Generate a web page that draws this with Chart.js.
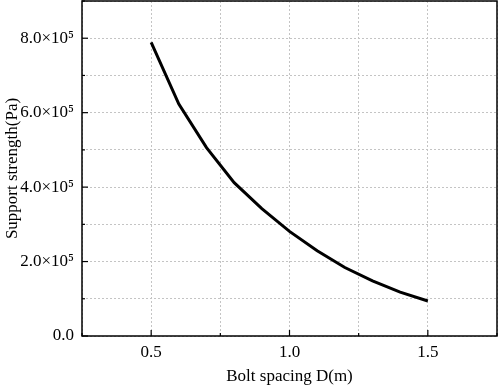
<!DOCTYPE html>
<html>
<head>
<meta charset="utf-8">
<script src="https://cdn.jsdelivr.net/npm/chart.js@4/dist/chart.umd.min.js"></script>
<style>
    html, body { margin: 0; padding: 0; background: #fff; }
    #wrap { width: 498px; height: 389px; }
</style>
</head>
<body>
<div id="wrap"><canvas id="strength"></canvas></div>
<script>
const spacing = [0.5, 0.6, 0.7, 0.8, 0.9, 1.0, 1.1, 1.2, 1.3, 1.4, 1.5];
const strength = [789000, 623000, 506000, 412000, 342000, 281000, 229000, 184000, 148000, 118000, 94000];
const xTickLabels = { "0.5": "0.5", "1": "1.0", "1.5": "1.5" };
const yTickLabels = { "0": "0.0", "200000": "2.0×10⁵", "400000": "4.0×10⁵", "600000": "6.0×10⁵", "800000": "8.0×10⁵" };

const points = spacing.map((x, i) => ({ x: x, y: strength[i] }));

// frame round the plot and inward tick marks
const frame = {
    id: "frame",
    afterDraw(chart) {
        const ctx = chart.ctx;
        const a = chart.chartArea;
        const xs = chart.scales.x;
        const ys = chart.scales.y;
        ctx.save();
        ctx.strokeStyle = "#000";
        ctx.lineWidth = 1.5;
        ctx.strokeRect(a.left, a.top, a.right - a.left, a.bottom - a.top);
        ctx.lineWidth = 1.2;
        xs.ticks.forEach(t => {
            const px = xs.getPixelForValue(t.value);
            const len = xTickLabels[String(t.value)] ? 6 : 3;
            ctx.beginPath();
            ctx.moveTo(px, a.bottom);
            ctx.lineTo(px, a.bottom - len);
            ctx.stroke();
        });
        ys.ticks.forEach(t => {
            const py = ys.getPixelForValue(t.value);
            const len = yTickLabels[String(t.value)] ? 6 : 3;
            ctx.beginPath();
            ctx.moveTo(a.left, py);
            ctx.lineTo(a.left + len, py);
            ctx.stroke();
        });
        ctx.restore();
    }
};

const serif = { family: "Liberation Serif", size: 17 };

const ctx = document.getElementById("strength").getContext("2d");
new Chart(ctx, {
    type: "line",
    data: {
        datasets: [{
            data: points,
            borderColor: "#000",
            borderWidth: 3,
            pointRadius: 0,
            tension: 0,
            fill: false
        }]
    },
    options: {
        responsive: true,
        maintainAspectRatio: false,
        animation: false,
        layout: { padding: { top: 1, right: 1, left: 0, bottom: 0 } },
        plugins: { legend: { display: false }, tooltip: { enabled: false } },
        scales: {
            x: {
                type: "linear",
                min: 0.25,
                max: 1.75,
                ticks: {
                    stepSize: 0.25,
                    padding: 6,
                    color: "#000",
                    font: serif,
                    callback: v => xTickLabels[String(v)] || ""
                },
                grid: { color: "#c4c4c4", lineWidth: 1, drawTicks: false },
                border: { display: false, dash: [2, 2] },
                title: {
                    display: true,
                    text: "Bolt spacing D(m)",
                    color: "#000",
                    font: serif,
                    padding: { top: 6, bottom: 2 }
                },
                afterFit: s => { s.height = 53; s.paddingLeft = 0; s.paddingRight = 0; }
            },
            y: {
                min: 0,
                max: 900000,
                ticks: {
                    stepSize: 100000,
                    padding: 8,
                    color: "#000",
                    font: serif,
                    callback: v => yTickLabels[String(v)] || ""
                },
                grid: { color: "#c4c4c4", lineWidth: 1, drawTicks: false },
                border: { display: false, dash: [2, 2] },
                title: {
                    display: true,
                    text: "Support strength(Pa)",
                    color: "#000",
                    font: serif,
                    padding: { top: 2, bottom: 2 }
                },
                afterFit: s => { s.width = 82; s.paddingTop = 0; s.paddingBottom = 0; }
            }
        }
    },
    plugins: [frame]
});
</script>
</body>
</html>
